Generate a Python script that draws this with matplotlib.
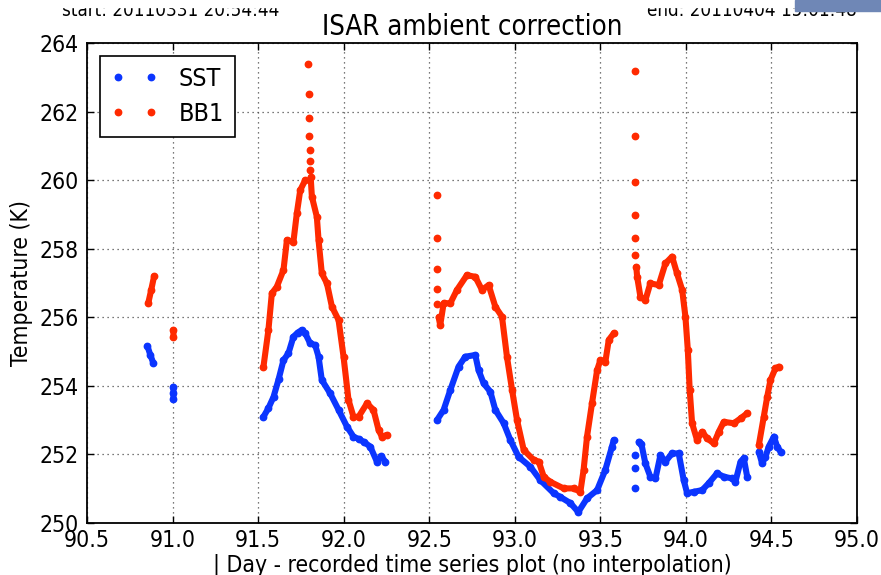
import numpy as np
import matplotlib
matplotlib.use('Agg')
import matplotlib.pyplot as plt
from matplotlib.lines import Line2D
from matplotlib.patches import Rectangle

# SST radiance temperature, segments split by nan
sst_day = [90.853, 90.870, 90.887, np.nan,
           91.005, 91.005, 91.005, np.nan,
           91.531, 91.560, 91.590, 91.620, 91.648, 91.677, 91.706, 91.730, 91.755, 91.775,
           91.804, 91.833, 91.853, 91.872, 91.921, 91.970, 92.019, 92.057, 92.087, 92.116,
           92.155, 92.194, 92.220, 92.243, np.nan,
           92.545, 92.584, 92.623, 92.671, 92.710, 92.769, 92.788, 92.818, 92.857, 92.886,
           92.935, 92.974, 93.022, 93.091, 93.149, 93.227, 93.266, 93.325, 93.371, 93.422,
           93.481, 93.529, 93.568, 93.578, np.nan,
           93.724, 93.740, 93.763, 93.792, 93.822, 93.851, 93.880, 93.919, 93.958, 93.987,
           94.007, 94.046, 94.095, 94.133, 94.182, 94.221, 94.270, 94.289, 94.319, 94.338,
           94.358, np.nan,
           94.426, 94.445, 94.465, 94.484, 94.514, 94.533, 94.553]
sst_temp = [255.16, 254.90, 254.67, np.nan,
            253.97, 253.80, 253.62, np.nan,
            253.10, 253.35, 253.68, 254.20, 254.75, 254.95, 255.43, 255.55, 255.63, 255.53,
            255.24, 255.19, 254.85, 254.17, 253.78, 253.30, 252.81, 252.52, 252.45, 252.37,
            252.23, 251.79, 251.95, 251.79, np.nan,
            253.00, 253.30, 253.88, 254.56, 254.85, 254.90, 254.46, 254.07, 253.83, 253.30,
            252.91, 252.42, 251.93, 251.64, 251.25, 250.87, 250.76, 250.58, 250.32, 250.72,
            250.96, 251.55, 252.23, 252.42, np.nan,
            252.37, 252.30, 251.74, 251.35, 251.30, 251.98, 251.79, 252.03, 252.03, 251.25,
            250.87, 250.91, 250.96, 251.16, 251.45, 251.35, 251.30, 251.20, 251.79, 251.89,
            251.35, np.nan,
            252.08, 251.74, 251.93, 252.23, 252.52, 252.23, 252.08]
sst_dot_day = [93.701, 93.701, 93.701]
sst_dot_temp = [251.01, 251.60, 251.98]

# BB1 temperature, segments split by nan
bb1_day = [90.858, 90.875, 90.892, np.nan,
           91.005, 91.005, np.nan,
           91.531, 91.560, 91.580, 91.609, 91.648, 91.668, 91.706, 91.726, 91.746, 91.775,
           np.nan,
           91.807, 91.814, 91.843, 91.853, 91.872, 91.902, 91.931, 91.970, 91.999, 92.028,
           92.057, 92.087, 92.136, 92.174, 92.204, 92.223, 92.253, np.nan,
           92.555, 92.564, 92.584, 92.623, 92.662, 92.720, 92.769, 92.808, 92.847, 92.886,
           92.925, 92.954, 92.984, 93.013, 93.052, 93.110, 93.140, 93.169, 93.208, 93.285,
           93.344, 93.383, 93.402, 93.422, 93.451, 93.481, 93.500, 93.529, 93.549, 93.578,
           np.nan,
           93.710, 93.715, 93.734, 93.763, 93.792, 93.841, 93.880, 93.919, 93.948, 93.978,
           93.997, 94.011, 94.022, 94.036, 94.065, 94.095, 94.124, 94.163, 94.192, 94.221,
           94.280, 94.319, 94.358, np.nan,
           94.426, 94.455, 94.475, 94.494, 94.523, 94.543]
bb1_temp = [256.42, 256.80, 257.20, np.nan,
            255.43, 255.63, np.nan,
            254.56, 255.63, 256.70, 256.89, 257.38, 258.25, 258.20, 259.03, 259.71, 260.00,
            np.nan,
            260.08, 259.52, 258.93, 258.25, 257.28, 256.99, 256.31, 255.92, 254.85, 253.59,
            253.10, 253.10, 253.49, 253.30, 252.71, 252.52, 252.57, np.nan,
            256.00, 255.77, 256.41, 256.41, 256.80, 257.23, 257.18, 256.80, 256.94, 256.31,
            256.02, 254.85, 253.88, 253.00, 252.13, 251.84, 251.79, 251.35, 251.20, 251.01,
            251.01, 250.91, 251.55, 252.52, 253.49, 254.46, 254.75, 254.70, 255.34, 255.53,
            np.nan,
            257.47, 257.18, 256.60, 256.50, 256.99, 256.94, 257.57, 257.77, 257.28, 256.80,
            256.02, 255.05, 253.88, 252.91, 252.42, 252.66, 252.47, 252.32, 252.66, 252.95,
            252.91, 253.05, 253.20, np.nan,
            252.27, 253.10, 253.68, 254.17, 254.51, 254.56]
bb1_dot_day = [91.790, 91.795, 91.797, 91.797, 91.801, 91.801, 91.801,
               92.545, 92.545, 92.548, 92.548, 92.548,
               93.701, 93.701, 93.701, 93.701, 93.701, 93.701]
bb1_dot_temp = [263.39, 262.50, 261.80, 261.30, 260.88, 260.57, 260.29,
                259.57, 258.30, 257.41, 256.84, 256.38,
                263.18, 261.30, 259.95, 258.99, 258.30, 257.82]

series_names = ['SST', 'BB1']
blue = '#0b35ff'
red = '#ff2a00'

plt.rcParams['font.family'] = 'DejaVu Sans'
plt.rcParams['font.stretch'] = 'condensed'

fig = plt.figure(figsize=(8.81, 5.75), dpi=100)
ax = fig.add_axes([0.0988, 0.0904, 0.874, 0.8348])

ms = 4.6
for d, t, dd, dt, c in [(sst_day, sst_temp, sst_dot_day, sst_dot_temp, blue),
                        (bb1_day, bb1_temp, bb1_dot_day, bb1_dot_temp, red)]:
    ax.plot(d, t, '-', color=c, lw=4.4, solid_capstyle='round',
            solid_joinstyle='round')
    ax.plot(d, t, 'o', color=c, ms=ms, mec=c)
    ax.plot(dd, dt, 'o', color=c, ms=ms, mec=c)

ax.set_xlim(90.5, 95.0)
ax.set_ylim(250, 264)
ax.set_xticks(np.arange(90.5, 95.01, 0.5))
ax.set_yticks(np.arange(250, 264.1, 2))
ax.set_xticklabels(['%.1f' % v for v in np.arange(90.5, 95.01, 0.5)])
ax.tick_params(direction='in', length=5, width=1, top=True, right=True,
               labelsize=16.5, pad=4)
ax.tick_params(axis='y', pad=6)
ax.grid(True, color='0.3', linestyle=(0, (1, 3)), lw=0.9)
for s in ax.spines.values():
    s.set_linewidth(1.3)

ax.set_title('ISAR ambient correction', fontsize=19.8, pad=6)
ax.set_xlabel('| Day - recorded time series plot (no interpolation)', fontsize=16.5,
              labelpad=2)
ax.set_ylabel('Temperature (K)', fontsize=16.5, labelpad=5)

handles = [Line2D([], [], ls='none', marker='o', color=blue, ms=ms),
           Line2D([], [], ls='none', marker='o', color=red, ms=ms)]
leg = ax.legend(handles, series_names, loc='upper left', numpoints=2, fontsize=18,
                fancybox=False, framealpha=1, edgecolor='black',
                borderaxespad=0.5, handlelength=1.9, handletextpad=0.8,
                borderpad=0.45, labelspacing=0.45)
leg.get_frame().set_linewidth(1.2)

# header lines, partly cut off at the top of the screenshot
fig.text(62 / 881, 1 - 16 / 575, 'start: 20110331 20:54:44', fontsize=13.5,
         va='baseline', zorder=3)
fig.text(857 / 881, 1 - 16 / 575, 'end: 20110404 15:01:48', fontsize=13.5,
         va='baseline', ha='right', zorder=3)
fig.patches.append(Rectangle((0, 1 - 7 / 575), 1, 7 / 575,
                             transform=fig.transFigure, color='white', zorder=4))
fig.patches.append(Rectangle((795 / 881, 1 - 11 / 575), 86 / 881, 11 / 575,
                             transform=fig.transFigure, color='#6f87b6', zorder=5))

fig.savefig('out.png', dpi=100)
